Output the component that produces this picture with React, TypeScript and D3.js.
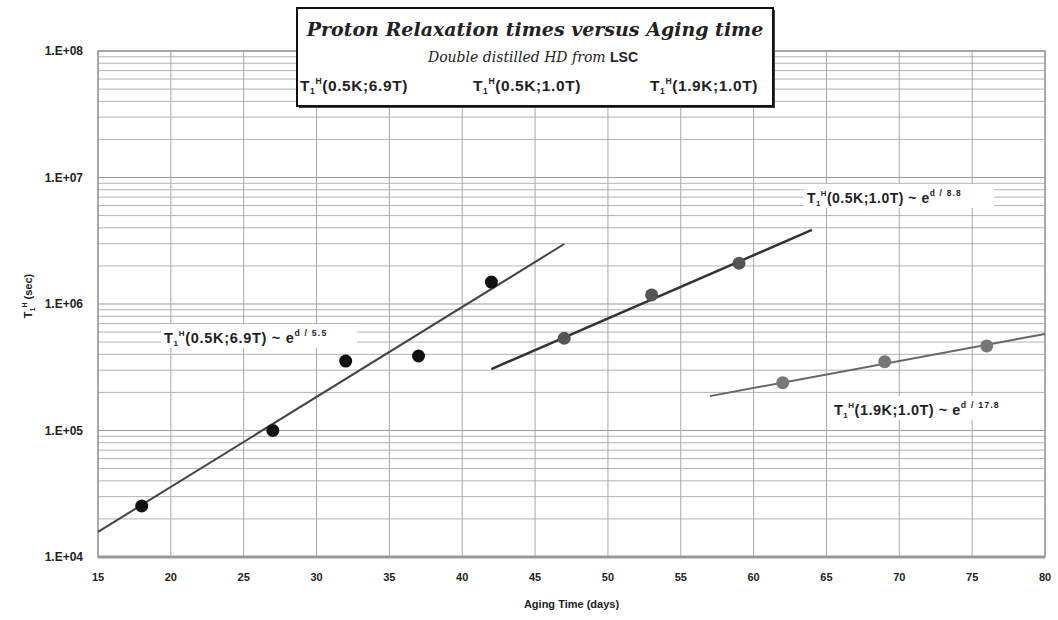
import React from "react";
import * as d3 from "d3";

const W = 1058;
const H = 620;
const margin = { left: 98, right: 13, top: 51, bottom: 63 };

const xTicks = [15, 20, 25, 30, 35, 40, 45, 50, 55, 60, 65, 70, 75, 80];
const yTicks = [1e4, 1e5, 1e6, 1e7, 1e8];
const yTickLabels = ["1.E+04", "1.E+05", "1.E+06", "1.E+07", "1.E+08"];

// Series 1: T1H(0.5K;6.9T)
const s1Days = [18, 27, 32, 37, 42];
const s1Values = [2.53e4, 1.0e5, 3.54e5, 3.88e5, 1.49e6];
const s1FitDays = [15, 47];
const s1FitValues = [1.58e4, 2.98e6];

// Series 2: T1H(0.5K;1.0T)
const s2Days = [47, 53, 59];
const s2Values = [5.36e5, 1.18e6, 2.1e6];
const s2FitDays = [42, 64];
const s2FitValues = [3.06e5, 3.85e6];

// Series 3: T1H(1.9K;1.0T)
const s3Days = [62, 69, 76];
const s3Values = [2.39e5, 3.5e5, 4.66e5];
const s3FitDays = [57, 80];
const s3FitValues = [1.87e5, 5.8e5];

const seriesNames = ["(0.5K;6.9T)", "(0.5K;1.0T)", "(1.9K;1.0T)"];
const fitTaus = ["5.5", "8.8", "17.8"];

const font = "'Liberation Sans', Arial, sans-serif";

function T1Label({ x, y, name, tau, size = 12, ls = 0 }: { x: number; y: number; name: string; tau?: string; size?: number; ls?: number }) {
  return (
    <text x={x} y={y} fontFamily={font} fontSize={size} fill="#222" fontWeight="bold" letterSpacing={ls}>
      T
      <tspan fontSize={size * 0.55} dy={3}>1</tspan>
      <tspan fontSize={size * 0.55} dy={-10}>H</tspan>
      <tspan dy={7}>{name}</tspan>
      {tau !== undefined && (
        <>
          <tspan> ~ e</tspan>
          <tspan fontSize={size * 0.6} dy={-7} letterSpacing={1.2}>{"d / " + tau}</tspan>
        </>
      )}
    </text>
  );
}

export default function App() {
  const x = d3.scaleLinear().domain([15, 80]).range([margin.left, W - margin.right]);
  const y = d3.scaleLog().domain([1e4, 1e8]).range([H - margin.bottom, margin.top]);

  const minor: number[] = [];
  for (let e = 4; e < 8; e++) {
    for (let m = 2; m <= 9; m++) minor.push(m * Math.pow(10, e));
  }

  const line = d3
    .line<[number, number]>()
    .x((d) => x(d[0]))
    .y((d) => y(d[1]));

  const fits = [
    { days: s1FitDays, vals: s1FitValues, color: "#444", w: 2 },
    { days: s2FitDays, vals: s2FitValues, color: "#333", w: 2.5 },
    { days: s3FitDays, vals: s3FitValues, color: "#666", w: 2 },
  ];
  const pts = [
    { days: s1Days, vals: s1Values, color: "#111" },
    { days: s2Days, vals: s2Values, color: "#555" },
    { days: s3Days, vals: s3Values, color: "#777" },
  ];

  const x0 = margin.left;
  const x1 = W - margin.right;
  const y0 = H - margin.bottom;
  const y1 = margin.top;

  return (
    <div style={{ position: "absolute", left: 0, top: 0 }}>
      <svg width={W} height={H} style={{ display: "block", background: "#fff" }}>
        {/* minor horizontal grid */}
        {minor.map((v, i) => (
          <line key={"mn" + i} x1={x0} x2={x1} y1={y(v)} y2={y(v)} stroke="#b4b4b4" strokeWidth={1} />
        ))}
        {/* major horizontal grid */}
        {yTicks.map((v, i) => (
          <line key={"mj" + i} x1={x0} x2={x1} y1={y(v)} y2={y(v)} stroke="#999" strokeWidth={1} />
        ))}
        {/* vertical grid */}
        {xTicks.map((v, i) => (
          <line key={"vg" + i} x1={x(v)} x2={x(v)} y1={y1} y2={y0} stroke="#a8a8a8" strokeWidth={1} />
        ))}
        {/* frame */}
        <rect x={x0} y={y1} width={x1 - x0} height={y0 - y1} fill="none" stroke="#999" strokeWidth={1.5} />
        <line x1={x0} x2={x1} y1={y0} y2={y0} stroke="#999" strokeWidth={3} />

        {/* y tick labels */}
        {yTicks.map((v, i) => (
          <text key={"yt" + i} x={x0 - 15} y={y(v) + 4} textAnchor="end" fontFamily={font} fontSize={12} fontWeight="bold" fill="#222">
            {yTickLabels[i]}
          </text>
        ))}
        {/* x tick labels */}
        {xTicks.map((v, i) => (
          <text key={"xt" + i} x={x(v)} y={y0 + 24} textAnchor="middle" fontFamily={font} fontSize={11} fontWeight="bold" fill="#222">
            {v}
          </text>
        ))}
        <text x={(x0 + x1) / 2} y={y0 + 51} textAnchor="middle" fontFamily={font} fontSize={11} fontWeight="bold" fill="#222">
          Aging Time (days)
        </text>
        <text transform={`translate(32, 296) rotate(-90)`} textAnchor="middle" fontFamily={font} fontSize={11} fontWeight="bold" fill="#222">
          T<tspan fontSize={7} dy={3}>1</tspan>
          <tspan fontSize={7} dy={-8}>H</tspan>
          <tspan dy={5}> (sec)</tspan>
        </text>

        {/* fit lines */}
        {fits.map((f, i) => (
          <path
            key={"fit" + i}
            d={line(f.days.map((d, j) => [d, f.vals[j]] as [number, number])) || ""}
            fill="none"
            stroke={f.color}
            strokeWidth={f.w}
          />
        ))}
        {/* points */}
        {pts.map((s, i) =>
          s.days.map((d, j) => (
            <circle key={"p" + i + "-" + j} cx={x(d)} cy={y(s.vals[j])} r={6.5} fill={s.color} />
          ))
        )}

        {/* fit annotations */}
        <rect x={161} y={324} width={196} height={24} fill="#fff" />
        <T1Label x={164} y={343} name={seriesNames[0]} tau={fitTaus[0]} size={14.5} ls={0.7} />
        <rect x={804} y={184} width={190} height={24} fill="#fff" />
        <T1Label x={807} y={203} name={seriesNames[1]} tau={fitTaus[1]} size={14} ls={0.5} />
        <rect x={831} y={396} width={200} height={24} fill="#fff" />
        <T1Label x={834} y={415} name={seriesNames[2]} tau={fitTaus[2]} size={14.5} ls={0.5} />

        {/* title box */}
        <rect x={299} y={10} width={476} height={98} fill="#444" />
        <rect x={297} y={8} width={476} height={98} fill="#fff" stroke="#111" strokeWidth={2} />
        <text x={535} y={36} textAnchor="middle" fontFamily="'DejaVu Serif', serif" fontStyle="italic" fontWeight="bold" fontSize={19} fill="#222">
          Proton Relaxation times versus Aging time
        </text>
        <text x={533} y={62} textAnchor="middle" fontFamily="'DejaVu Serif', serif" fontStyle="italic" fontSize={14} fill="#222">
          Double distilled HD from <tspan fontFamily={font} fontStyle="normal" fontWeight="bold">LSC</tspan>
        </text>
        <T1Label x={300} y={91} name={seriesNames[0]} size={15.5} ls={0.6} />
        <T1Label x={473} y={91} name={seriesNames[1]} size={15.5} ls={0.6} />
        <T1Label x={650} y={91} name={seriesNames[2]} size={15.5} ls={0.6} />
      </svg>
    </div>
  );
}
